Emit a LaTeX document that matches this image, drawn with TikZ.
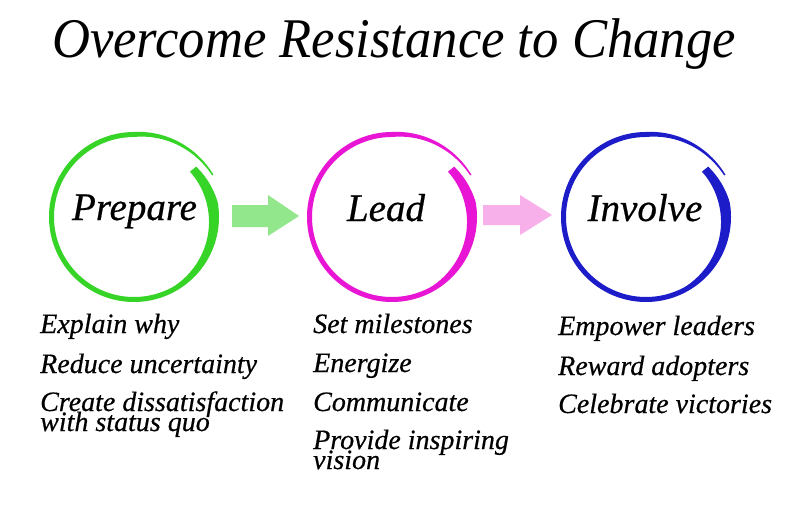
\documentclass[tikz,border=0pt]{standalone}
\usepackage{fontspec}
\setmainfont{Liberation Serif}
\newfontfamily\itemfont{Liberation Serif}[FakeBold=0.5]
\newcommand{\tightlines}{\lineskiplimit=-40pt\relax\lineskip=0pt\relax}
\definecolor{ringgreen}{RGB}{55,212,40}
\definecolor{ringpink}{RGB}{232,22,212}
\definecolor{ringblue}{RGB}{28,28,200}
\definecolor{arrgreen}{RGB}{146,230,140}
\definecolor{arrpink}{RGB}{247,176,234}
\tikzset{
  declare function={
    ro(\t)=(\t>10) ? (80+5*(39-\t)/29) : ((\t>-270) ? 85 : (85+5*(-270-\t)/62));
    wd(\t)=(\t>10) ? (8+3*(39-\t)/29) : ((\t>-60) ? (11-6*(10-\t)/70) : ((\t>-270) ? 5 : (5-3.5*(-270-\t)/62)));
  },
  titletext/.style={font=\fontsize{56}{60}\selectfont\itshape, anchor=base, inner sep=0},
  ringlabel/.style={font=\itemfont\fontsize{39}{42}\selectfont\itshape, anchor=base, inner sep=0},
  itemtext/.style={font=\itemfont\fontsize{28}{20}\selectfont\itshape\tightlines, anchor=base west, inner sep=0, align=left},
  ringnode/.style={circle, minimum size=172pt, inner sep=0},
}
\newcommand{\brushring}[3]{%
  \fill[#3] plot[domain=39:-332,samples=220] ({#1+ro(\x)*cos(\x)},{#2-ro(\x)*sin(\x)})
    -- plot[domain=-332:39,samples=220] ({#1+(ro(\x)-wd(\x))*cos(\x)},{#2-(ro(\x)-wd(\x))*sin(\x)}) -- cycle;}
\begin{document}
\begin{tikzpicture}[x=1pt,y=-1pt]
\useasboundingbox (0,0) rectangle (800,511);
\fill[white] (0,0) rectangle (800,511);
% title
\node[titletext] (title) at (394,57) {\scalebox{0.94}[1]{Overcome Resistance to Change}};
% rings
\node[ringnode] (prep) at (134,217) {};
\node[ringnode] (lead) at (392,217) {};
\node[ringnode] (inv) at (646,217) {};
\brushring{134}{217}{ringgreen}
\brushring{392}{217}{ringpink}
\brushring{646}{217}{ringblue}
\node[ringlabel] (prepl) at (134.5,220) {Prepare};
\node[ringlabel] (leadl) at (386,221) {Lead};
\node[ringlabel] (invl) at (645,221) {Involve};
% block arrows
\coordinate (a1s) at (232,216);
\coordinate (a1e) at (299,216);
\coordinate (a2s) at (483,215);
\coordinate (a2e) at (552,215);
\fill[arrgreen] (a1s) ++(0,-11) -- ++(36,0) -- ++(0,-10) -- (a1e) -- ++(-31,20) -- ++(0,-9) -- ++(-36,0) -- cycle;
\fill[arrpink] (a2s) ++(0,-10) -- ++(37,0) -- ++(0,-10) -- (a2e) -- ++(-32,20) -- ++(0,-10) -- ++(-37,0) -- cycle;
% lists
\node[itemtext] (p1) at (40,333) {Explain why};
\node[itemtext] (p2) at (40,373) {Reduce uncertainty};
\node[itemtext] (p3) at (40,431) {Create dissatisfaction\\with status quo};
\node[itemtext] (l1) at (313,333) {Set milestones};
\node[itemtext] (l2) at (313,372) {Energize};
\node[itemtext] (l3) at (313,411) {Communicate};
\node[itemtext] (l4) at (313,469) {Provide inspiring\\vision};
\node[itemtext] (i1) at (558,335) {Empower leaders};
\node[itemtext] (i2) at (558,375) {Reward adopters};
\node[itemtext] (i3) at (558,413) {Celebrate victories};
\end{tikzpicture}
\end{document}
